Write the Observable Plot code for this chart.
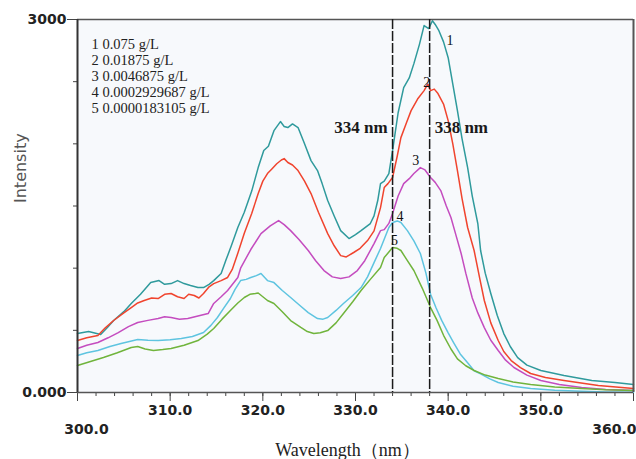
<!DOCTYPE html>
<html>
<head>
<meta charset="utf-8">
<script src="https://cdn.jsdelivr.net/npm/d3@7"></script>
<script src="https://cdn.jsdelivr.net/npm/@observablehq/plot@0.6"></script>
<style>
  body { margin: 0; background: #fff; }
</style>
</head>
<body>
<div id="chart"></div>
<script>
// Fluorescence emission spectra: [wavelength (nm), intensity]
const curve1 = [[300.0,474],[301.2,490],[302.5,466],[303.2,520],[303.9,579],[305.0,650],[305.8,716],[306.8,790],[307.9,884],[308.8,900],[309.4,870],[310.1,876],[310.8,900],[311.5,876],[312.2,860],[313.0,844],[313.6,844],[314.2,870],[314.7,900],[315.5,957],[316.0,1061],[316.6,1180],[317.3,1327],[318.0,1450],[318.8,1620],[319.5,1809],[320.1,1946],[320.6,1980],[321.2,2106],[321.9,2179],[322.3,2140],[322.7,2131],[323.2,2160],[323.8,2131],[324.5,2000],[325.2,1865],[325.9,1785],[326.4,1680],[327.0,1544],[327.7,1420],[328.4,1302],[329.3,1238],[330.0,1270],[330.6,1302],[331.6,1359],[332.0,1420],[332.4,1544],[332.7,1680],[333.1,1700],[333.6,1760],[334.0,1946],[334.6,2250],[335.2,2452],[335.8,2530],[336.3,2645],[336.9,2800],[337.4,2951],[337.9,2927],[338.3,2990],[338.6,2960],[339.0,2910],[339.5,2820],[340.0,2693],[340.5,2480],[341.0,2267],[341.5,2040],[342.1,1809],[342.6,1580],[343.2,1359],[343.5,1142],[344.0,960],[344.6,796],[345.3,620],[346.0,474],[346.7,370],[347.5,281],[348.5,220],[350.0,177],[352.5,137],[355.5,96],[358.0,80],[360.0,64]];
const curve2 = [[300.0,418],[301.0,440],[302.2,458],[303.0,520],[303.9,579],[305.0,640],[305.8,683],[306.5,720],[307.2,740],[308.0,760],[308.7,756],[309.4,790],[310.1,796],[310.8,770],[311.5,756],[312.0,790],[312.6,780],[313.1,760],[313.6,796],[314.2,850],[314.7,876],[315.5,900],[316.2,925],[316.7,990],[317.3,1120],[318.0,1280],[318.8,1440],[319.5,1600],[320.0,1700],[320.5,1761],[321.0,1800],[321.5,1840],[322.0,1870],[322.3,1881],[322.7,1850],[323.2,1830],[323.8,1785],[324.5,1700],[325.2,1600],[326.0,1450],[327.0,1278],[327.7,1180],[328.4,1101],[329.0,1090],[329.8,1126],[330.5,1160],[331.3,1222],[332.0,1300],[332.7,1487],[333.1,1648],[333.5,1680],[334.0,1729],[334.5,1900],[334.9,2050],[335.5,2170],[336.0,2267],[336.7,2360],[337.4,2428],[337.8,2480],[338.1,2428],[338.5,2440],[338.9,2404],[339.5,2320],[340.0,2187],[340.5,2000],[341.0,1785],[341.5,1560],[342.1,1327],[342.8,1142],[343.4,920],[343.9,740],[344.6,560],[345.4,418],[346.0,330],[346.8,257],[347.8,200],[348.9,153],[350.5,120],[352.5,96],[356.2,56],[360.0,32]];
const curve3 = [[300.0,354],[301.0,380],[302.2,402],[303.3,440],[304.4,482],[305.5,530],[306.5,563],[307.6,580],[308.7,595],[309.4,610],[310.1,603],[311.0,590],[311.9,595],[313.0,615],[314.1,635],[314.7,716],[315.5,770],[316.2,820],[317.3,925],[317.6,1000],[318.7,1150],[319.8,1278],[320.8,1340],[321.7,1383],[322.3,1350],[323.0,1302],[323.9,1230],[324.9,1142],[325.7,1060],[326.6,981],[327.5,930],[328.4,917],[329.3,930],[330.2,981],[331.0,1060],[332.0,1198],[332.7,1302],[333.1,1310],[333.6,1360],[334.0,1439],[334.6,1580],[335.2,1680],[335.8,1720],[336.3,1761],[337.0,1809],[337.5,1790],[338.1,1729],[338.6,1690],[339.2,1624],[339.8,1500],[340.3,1407],[340.9,1250],[341.4,1118],[341.9,960],[342.6,760],[343.2,640],[343.9,522],[344.6,420],[345.4,338],[346.2,260],[347.1,201],[348.5,140],[350.0,96],[352.0,65],[354.4,40],[357.0,25],[360.0,16]];
const curve4 = [[300.0,297],[301.0,320],[302.2,338],[303.5,370],[304.7,394],[305.6,410],[306.5,426],[307.6,420],[308.7,418],[310.0,425],[311.2,434],[312.4,450],[313.6,482],[314.4,540],[315.1,603],[315.8,680],[316.5,756],[317.0,830],[317.6,900],[318.2,910],[318.7,925],[319.3,940],[319.8,957],[320.5,900],[321.2,884],[322.1,820],[323.0,764],[324.0,700],[324.9,643],[325.9,595],[326.5,590],[327.0,603],[327.9,660],[328.7,716],[329.7,780],[330.6,844],[331.3,930],[332.0,1045],[332.7,1158],[333.6,1327],[334.0,1367],[334.5,1380],[334.9,1367],[335.6,1302],[336.3,1220],[337.0,1118],[337.6,960],[338.1,790],[338.7,680],[339.3,580],[340.0,480],[340.6,400],[341.3,310],[342.1,240],[342.8,175],[343.5,150],[344.5,110],[345.4,80],[347.0,50],[348.9,32],[351.5,18],[354.4,10],[357.0,5],[360.0,3]];
const curve5 = [[300.0,217],[301.4,250],[302.8,281],[304.3,320],[305.8,362],[306.5,370],[307.3,350],[308.2,338],[309.2,345],[310.1,354],[311.5,380],[313.0,418],[314.0,470],[314.7,515],[315.6,590],[316.5,659],[317.3,720],[318.0,764],[318.6,790],[319.2,796],[319.5,800],[320.0,770],[320.5,740],[321.2,716],[322.1,650],[323.0,579],[324.1,523],[324.8,490],[325.5,474],[326.2,480],[327.0,498],[327.9,560],[328.7,635],[329.7,730],[330.6,820],[331.6,910],[332.7,1005],[333.1,1085],[333.6,1130],[334.0,1166],[334.5,1160],[334.9,1142],[335.6,1060],[336.3,981],[337.2,840],[338.1,683],[338.8,580],[339.5,460],[340.3,350],[341.0,270],[341.9,215],[342.8,177],[344.0,140],[345.4,113],[347.0,85],[348.9,64],[351.5,45],[354.4,32],[357.0,22],[360.0,16]];

const curves = [curve1, curve2, curve3, curve4, curve5];
const curveNames = ["1", "2", "3", "4", "5"];
const curveColors = ["#2f9a9c", "#f0442e", "#c44cbf", "#5ec4e0", "#70b43c"];
const concentrations = ["0.075", "0.01875", "0.0046875", "0.0002929687", "0.0000183105"];

// where each curve number is written beside its peak
const labelX = [340.2, 337.7, 336.5, 334.8, 334.2];
const labelY = [2830, 2492, 1865, 1415, 1222];

// marked emission maxima and the height of their captions
const peakLines = [334, 338];
const peakCaptionY = 2130;

const xMajor = [310, 320, 330, 340, 350];
const xEnds = [300, 360];
const xMinor = d3.range(300, 361, 2);
const yMajor = [0, 3000];
const yMinor = d3.range(0, 3001, 500);

const rows = curves.flatMap((c, i) => c.map(([w, v]) => ({w, v, s: curveNames[i]})));
const labels = curveNames.map((n, i) => ({n, x: labelX[i], y: labelY[i]}));
const legendText = curveNames.map((n, i) => `${n} ${concentrations[i]} g/L`).join("\n");

const serif = "Liberation Serif, Times New Roman, serif";
const bold = "DejaVu Sans";
const tickText = {fontSize: 14, fontWeight: "bold", fontFamily: bold, fill: "#222"};

const chart = Plot.plot({
  width: 636,
  height: 459,
  marginLeft: 77,
  marginRight: 3,
  marginTop: 19,
  marginBottom: 67,
  x: {domain: [300, 360]},
  y: {domain: [0, 3000]},
  color: {domain: curveNames, range: curveColors},
  style: {fontFamily: "DejaVu Sans", background: "#fff", color: "#222", overflow: "visible"},
  marks: [
    Plot.frame({fill: "#f7f9fc", stroke: null}),
    // tick marks
    Plot.axisX(xMinor, {tickSize: 4, tickFormat: () => "", label: null, stroke: "#444"}),
    Plot.axisX(xMajor, {tickSize: 9, tickPadding: 4, tickFormat: d => d.toFixed(1), label: null, stroke: "#444", ...tickText}),
    Plot.axisX(xEnds, {tickSize: 9, tickFormat: () => "", label: null, stroke: "#444"}),
    Plot.text([xEnds[0]], {x: d => d, frameAnchor: "bottom", dy: 41, dx: 9, text: d => d.toFixed(1), ...tickText}),
    Plot.text([xEnds[1]], {x: d => d, frameAnchor: "bottom", dy: 41, dx: 3, textAnchor: "end", text: d => d.toFixed(1), ...tickText}),
    Plot.axisY(yMinor, {tickSize: 4, tickFormat: () => "", label: null, stroke: "#444"}),
    Plot.axisY(yMajor, {tickSize: 10, tickPadding: 1, tickFormat: d => d === 0 ? "0.000" : String(d), label: null, stroke: "#444", ...tickText}),
    // spectra
    Plot.line(rows, {x: "w", y: "v", z: "s", stroke: "s", strokeWidth: 1.5, strokeLinejoin: "round"}),
    // box and axis lines
    Plot.ruleY([3000], {stroke: "#555", strokeWidth: 1.5}),
    Plot.ruleX([360], {stroke: "#555", strokeWidth: 2}),
    Plot.ruleY([0], {stroke: "#555", strokeWidth: 1.5}),
    Plot.ruleX([300], {stroke: "#333", strokeWidth: 2}),
    // emission maxima
    Plot.ruleX(peakLines, {stroke: "#1a1a1a", strokeWidth: 1.5, strokeDasharray: "10,2"}),
    Plot.text([peakLines[0]], {x: d => d, y: peakCaptionY, text: d => `${d} nm`, textAnchor: "end", dx: -5,
      fontFamily: serif, fontWeight: "bold", fontSize: 17, fill: "#1a1a1a"}),
    Plot.text([peakLines[1]], {x: d => d, y: peakCaptionY, text: d => `${d} nm`, textAnchor: "start", dx: 5,
      fontFamily: serif, fontWeight: "bold", fontSize: 17, fill: "#1a1a1a"}),
    // curve numbers
    Plot.text(labels, {x: "x", y: "y", text: "n", fontFamily: serif, fontSize: 14, fill: "#111"}),
    // concentration key
    Plot.text([legendText], {frameAnchor: "top-left", dx: 14, dy: 18, lineAnchor: "top", lineHeight: 1.1,
      textAnchor: "start", fontFamily: serif, fontSize: 14.5, fill: "#222"}),
    // axis titles
    Plot.text(["Intensity"], {frameAnchor: "left", rotate: -90, dx: -57, dy: -3, fontSize: 16, fill: "#555"}),
    Plot.text(["Wavelength（nm）"], {frameAnchor: "bottom", dx: -8, dy: 63, fontFamily: serif, fontSize: 18, fill: "#222"})
  ]
});

document.getElementById("chart").append(chart);
</script>
</body>
</html>
